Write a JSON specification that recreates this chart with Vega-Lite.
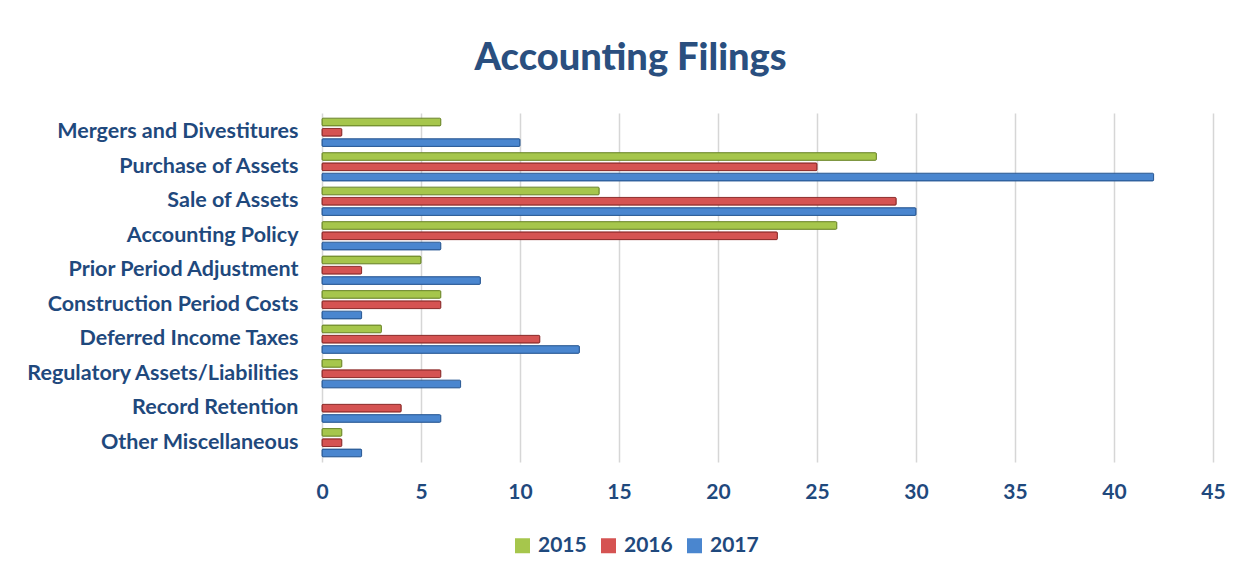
{
  "$schema": "https://vega.github.io/schema/vega-lite/v6.json",
  "autosize": "none",
  "width": 891,
  "height": 349,
  "padding": {"left": 322, "top": 113, "right": 31, "bottom": 115},
  "background": "white",
  "title": {
    "text": "Accounting Filings",
    "font": "Lato",
    "fontSize": 38,
    "fontWeight": 900,
    "color": "#2a4f7f",
    "anchor": "middle",
    "frame": "group",
    "dx": -137,
    "offset": 35
  },
  "data": {
    "values": [
      {"category": "Mergers and Divestitures", "year": "2015", "filings": 6},
      {"category": "Mergers and Divestitures", "year": "2016", "filings": 1},
      {"category": "Mergers and Divestitures", "year": "2017", "filings": 10},
      {"category": "Purchase of Assets", "year": "2015", "filings": 28},
      {"category": "Purchase of Assets", "year": "2016", "filings": 25},
      {"category": "Purchase of Assets", "year": "2017", "filings": 42},
      {"category": "Sale of Assets", "year": "2015", "filings": 14},
      {"category": "Sale of Assets", "year": "2016", "filings": 29},
      {"category": "Sale of Assets", "year": "2017", "filings": 30},
      {"category": "Accounting Policy", "year": "2015", "filings": 26},
      {"category": "Accounting Policy", "year": "2016", "filings": 23},
      {"category": "Accounting Policy", "year": "2017", "filings": 6},
      {"category": "Prior Period Adjustment", "year": "2015", "filings": 5},
      {"category": "Prior Period Adjustment", "year": "2016", "filings": 2},
      {"category": "Prior Period Adjustment", "year": "2017", "filings": 8},
      {"category": "Construction Period Costs", "year": "2015", "filings": 6},
      {"category": "Construction Period Costs", "year": "2016", "filings": 6},
      {"category": "Construction Period Costs", "year": "2017", "filings": 2},
      {"category": "Deferred Income Taxes", "year": "2015", "filings": 3},
      {"category": "Deferred Income Taxes", "year": "2016", "filings": 11},
      {"category": "Deferred Income Taxes", "year": "2017", "filings": 13},
      {"category": "Regulatory Assets/Liabilities", "year": "2015", "filings": 1},
      {"category": "Regulatory Assets/Liabilities", "year": "2016", "filings": 6},
      {"category": "Regulatory Assets/Liabilities", "year": "2017", "filings": 7},
      {"category": "Record Retention", "year": "2015", "filings": 0},
      {"category": "Record Retention", "year": "2016", "filings": 4},
      {"category": "Record Retention", "year": "2017", "filings": 6},
      {"category": "Other Miscellaneous", "year": "2015", "filings": 1},
      {"category": "Other Miscellaneous", "year": "2016", "filings": 1},
      {"category": "Other Miscellaneous", "year": "2017", "filings": 2}
    ]
  },
  "transform": [{"filter": "datum.filings > 0"}],
  "mark": {"type": "bar", "strokeWidth": 1, "cornerRadius": 1},
  "encoding": {
    "y": {
      "field": "category",
      "type": "nominal",
      "sort": null,
      "scale": {"paddingInner": 0.18, "paddingOuter": 0.15},
      "axis": {
        "title": null,
        "ticks": false,
        "domain": false,
        "labelFont": "Lato",
        "labelFontSize": 21.5,
        "labelFontWeight": "bold",
        "labelColor": "#1f497d",
        "labelPadding": 24,
        "labelLimit": 400
      }
    },
    "yOffset": {
      "field": "year",
      "type": "nominal",
      "scale": {"domain": ["2015", "2016", "2017"], "paddingInner": 0.25}
    },
    "x": {
      "field": "filings",
      "type": "quantitative",
      "scale": {"domain": [0, 45], "nice": false},
      "axis": {
        "title": null,
        "values": [0, 5, 10, 15, 20, 25, 30, 35, 40, 45],
        "ticks": false,
        "domain": false,
        "grid": true,
        "gridColor": "#d6d6d6",
        "gridWidth": 1.5,
        "labelFont": "Lato",
        "labelFontSize": 21,
        "labelFontWeight": "bold",
        "labelColor": "#1f497d",
        "labelPadding": 19,
        "labelFlush": false
      }
    },
    "color": {
      "field": "year",
      "type": "nominal",
      "scale": {"domain": ["2015", "2016", "2017"], "range": ["#a6c64c", "#d55352", "#4a86cf"]},
      "legend": {
        "title": null,
        "orient": "none",
        "direction": "horizontal",
        "legendX": 190,
        "legendY": 422,
        "symbolType": "square",
        "symbolSize": 225,
        "symbolStrokeWidth": 0,
        "labelFont": "Lato",
        "labelFontSize": 21,
        "labelFontWeight": "bold",
        "labelColor": "#1f497d",
        "labelOffset": 5,
        "columnPadding": 11
      }
    },
    "stroke": {
      "field": "year",
      "type": "nominal",
      "scale": {"domain": ["2015", "2016", "2017"], "range": ["#6f8a2c", "#8e2d2c", "#2a5a96"]},
      "legend": null
    }
  },
  "config": {
    "view": {"stroke": null}
  }
}
